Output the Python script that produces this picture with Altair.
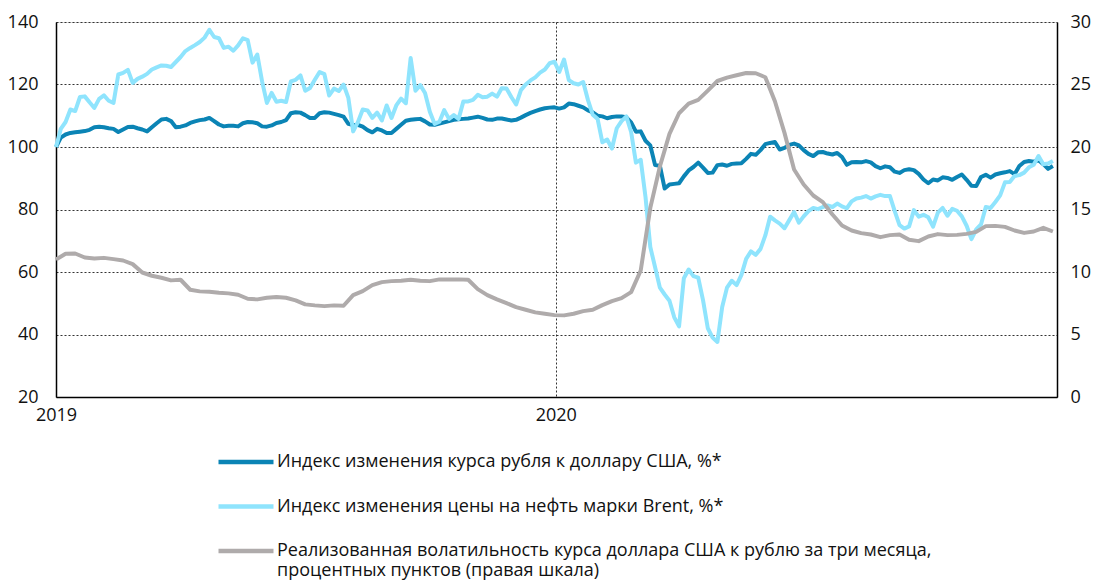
import altair as alt
import pandas as pd

# ---- data ----
S_RUB = "Индекс изменения курса рубля к доллару США, %*"
S_BRENT = "Индекс изменения цены на нефть марки Brent, %*"
S_VOL = "Реализованная волатильность курса доллара США к рублю за три месяца,|процентных пунктов (правая шкала)"

dates_half = pd.date_range("2019-01-01", periods=209, freq="84h")
dates_week = pd.date_range("2019-01-01", periods=105, freq="7D")

rub = [
    100, 103, 104, 104.5, 104.7, 104.9, 105.1, 105.5, 106.3, 106.5,
    106.3, 106.0, 105.8, 104.8, 105.6, 106.4, 106.5, 106.0, 105.6, 105.0,
    106.3, 107.6, 108.8, 109.0, 108.3, 106.3, 106.5, 106.9, 107.7, 108.2,
    108.6, 108.8, 109.3, 108.3, 107.2, 106.6, 106.8, 106.8, 106.6, 107.6,
    108.0, 107.9, 107.6, 106.6, 106.5, 106.9, 107.7, 108.0, 108.6, 110.8,
    111.1, 111.0, 110.2, 109.3,
    109.3, 110.8, 111.1, 111.0, 110.6, 110.2, 109.7, 107.4, 107.0, 107.1,
    106.5, 105.4, 104.7, 105.8, 105.3, 104.5, 104.5, 105.8, 107.1, 108.4,
    108.7, 108.9, 109.0, 108.2, 107.2, 107.1, 107.5, 107.9, 108.3, 108.7,
    108.9, 109.0, 109.1, 109.4, 109.7, 109.3, 108.8, 108.7, 109.1, 109.1,
    108.8, 108.5, 108.7, 109.4, 110.2, 110.9, 111.5, 112.0, 112.4, 112.6,
    112.7,
    112.3, 112.7, 113.9, 113.7, 113.2, 112.7, 111.7, 111.1, 110.0, 109.8,
    109.2, 109.6, 109.8, 109.8, 109.5, 107.9, 104.9, 105.0, 102.0, 100.5,
    94.2, 94.0, 86.7, 88.0, 88.2, 88.4, 90.6, 92.5, 93.6, 95.0,
    93.4, 91.7, 91.8, 94.2, 94.4, 94.0, 94.6, 94.7, 94.8, 96.2,
    97.8, 97.5, 99.0, 100.9, 101.3, 101.6, 99.2, 99.7, 100.7, 101.1,
    100.5, 99.0,
    97.8, 97.1, 98.3, 98.4, 97.9, 97.6, 98.1, 96.8, 94.3, 95.1,
    95.2, 95.1, 95.5, 95.1, 93.9, 93.2, 93.8, 93.5, 92.1, 91.7,
    92.6, 92.9, 92.6, 91.4, 89.6, 88.4, 89.6, 89.3, 90.3, 90.1,
    89.5, 90.4, 91.2, 89.5, 87.6, 87.5, 90.4, 91.1, 90.2, 91.2,
    91.6, 91.9, 92.3, 91.3, 93.9, 95.2, 95.5, 95.3, 95.8, 94.5,
    93.0, 93.9,
]

brent = [
    100, 105.8, 108, 112, 111.5, 116, 116.2, 114.3, 112.5, 115.4,
    116.5, 114.8, 114.1, 123.2, 123.7, 124.7, 120.5, 121.8, 122.5, 123.4,
    124.8, 125.5, 126.1, 126.0, 125.6, 127.2, 128.8, 130.7, 131.7, 132.6,
    133.6, 135.0, 137.5, 135.2, 134.8, 131.7, 132.1, 130.8, 132.5, 134.8,
    134.2, 127.0, 129.6, 121.0, 114.1, 117.3, 114.5, 114.8, 114.4, 121.0,
    121.5, 122.9, 118.0, 118.9,
    121.5, 124.0, 123.3, 116.5, 118.7, 117.9, 120.0, 115.7, 105.0, 108.0,
    112.0, 111.7, 109.3, 111.0, 108.5, 113.3, 109.3, 113.3, 115.5, 114.0,
    128.5, 118.0, 119.8, 117.3, 111.3, 107.4, 108.1, 111.8, 109.0, 110.2,
    109.0, 114.6, 114.6, 115.1, 116.7, 115.9, 116.1, 117.1, 116.1, 118.8,
    118.7, 116.0, 113.6, 118.2, 120.0, 121.3, 122.3, 123.8, 124.8, 126.8,
    127.3,
    124.0, 128.0, 121.4, 120.4, 120.0, 120.8, 115.0, 110.3, 109.0, 101.5,
    102.4, 99.5, 106.0, 108.3, 109.8, 104.8, 95.0, 95.9, 84.0, 68.0,
    61.5, 55.0, 52.8, 50.8, 45.5, 42.6, 58.0, 60.8, 58.7, 58.2,
    51.0, 42.0, 39.0, 37.6, 48.8, 55.0, 57.2, 55.8, 59.0, 64.2,
    66.6, 65.5, 67.4, 71.7, 77.7, 76.5, 75.5, 74.0, 76.6, 79.2,
    75.8, 77.8,
    79.5, 80.5, 80.1, 80.8, 81.3, 80.8, 81.9, 81.0, 80.4, 82.6,
    83.5, 83.8, 84.3, 83.5, 84.2, 84.7, 84.3, 84.3, 79.5, 75.0,
    73.9, 74.6, 79.8, 77.7, 78.3, 77.5, 74.5, 79.0, 80.5, 78.0,
    80.2, 79.6, 77.8, 74.8, 70.5, 73.6, 75.2, 80.8, 80.5, 82.4,
    84.5, 88.7, 88.8, 90.7, 91.0, 91.8, 93.5, 94.3, 97.1, 94.5,
    94.7, 95.5,
]

vol = [
    11.0, 11.46, 11.48, 11.16, 11.08, 11.13, 11.03, 10.92, 10.63, 9.96,
    9.70, 9.54, 9.33, 9.38, 8.58, 8.45, 8.42, 8.34, 8.29, 8.18,
    7.86, 7.81, 7.94, 8.00, 7.94, 7.73, 7.41,
    7.33, 7.27, 7.33, 7.30, 8.15, 8.47, 8.95, 9.19, 9.27, 9.30,
    9.38, 9.30, 9.27, 9.41, 9.41, 9.41, 9.38, 8.63, 8.15, 7.81,
    7.51, 7.19, 6.98, 6.77, 6.66, 6.55,
    6.53, 6.66, 6.87, 6.98, 7.35, 7.67, 7.91, 8.39, 10.12, 15.13,
    18.44, 21.05, 22.70, 23.47, 23.77, 24.51, 25.28, 25.55, 25.74, 25.92,
    25.90, 25.58, 23.66, 21.13, 18.20, 17.00,
    16.12, 15.59, 14.60, 13.72, 13.32, 13.11, 13.00, 12.79, 12.95, 13.00,
    12.58, 12.47, 12.84, 13.03, 12.95, 12.97, 13.05, 13.21, 13.67, 13.69,
    13.61, 13.32, 13.13, 13.24, 13.53, 13.24,
]

left_ticks = [20, 40, 60, 80, 100, 120, 140]
right_ticks = [0, 5, 10, 15, 20, 25, 30]
series_order = [S_RUB, S_BRENT, S_VOL]
series_colors = ["#0b84b5", "#8fe4fd", "#afabab"]

df_left = pd.concat([
    pd.DataFrame({"date": dates_half, "value": rub, "series": S_RUB, "ord": 1}),
    pd.DataFrame({"date": dates_half, "value": brent, "series": S_BRENT, "ord": 0}),
])
df_right = pd.DataFrame({"date": dates_week, "value": vol, "series": S_VOL})

FONT = "Open Sans"
x_domain = [alt.DateTime(year=2019, month=1, date=1), alt.DateTime(year=2021, month=1, date=1)]
x_ticks = [alt.DateTime(year=2019, month=1, date=1), alt.DateTime(year=2020, month=1, date=1)]

color = alt.Color(
    "series:N",
    scale=alt.Scale(domain=series_order, range=series_colors),
    legend=alt.Legend(
        title=None, orient="none", legendX=160, legendY=410,
        direction="vertical", symbolType="stroke", symbolSize=3025,
        symbolStrokeWidth=4.5, labelFont=FONT, labelFontSize=18,
        labelColor="#111", labelLimit=1000, labelOffset=1, rowPadding=5.5,
        labelExpr="split(datum.label, '|')",
    ),
)

x_enc = alt.X(
    "date:T",
    scale=alt.Scale(domain=x_domain),
    axis=alt.Axis(
        title=None, values=x_ticks, format="%Y", ticks=False, labelPadding=9,
        grid=True, gridDash=[2, 2], gridColor="#333", gridWidth=1,
        domainColor="black", domainWidth=1.5, labelAlign="center",
        labelFont=FONT, labelFontSize=18, labelColor="#111",
    ),
)

left = alt.Chart(df_left).mark_line(strokeWidth=4, strokeJoin="round").encode(
    x=x_enc,
    y=alt.Y(
        "value:Q",
        scale=alt.Scale(domain=[20, 140], nice=False, zero=False),
        axis=alt.Axis(
            title=None, orient="left", values=left_ticks, ticks=False,
            labelPadding=18, grid=True, gridDash=[2, 2], gridColor="#333",
            gridWidth=1, domainColor="black", domainWidth=1.5,
            labelFont=FONT, labelFontSize=18, labelColor="#111",
        ),
    ),
    color=color,
    order=alt.Order("ord:Q"),
)

right = alt.Chart(df_right).mark_line(strokeWidth=4, strokeJoin="round").encode(
    x=x_enc,
    y=alt.Y(
        "value:Q",
        scale=alt.Scale(domain=[0, 30], nice=False),
        axis=alt.Axis(
            title=None, orient="right", values=right_ticks, ticks=False,
            labelPadding=13, grid=False, domainColor="black", domainWidth=1.5,
            labelFont=FONT, labelFontSize=18, labelColor="#111",
        ),
    ),
    color=color,
)

chart = (
    alt.layer(left, right)
    .resolve_scale(y="independent")
    .properties(
        width=1001, height=375,
        autosize=alt.AutoSizeParams(type="none"),
        padding={"left": 48, "top": 14, "right": 34, "bottom": 200},
    )
    .configure_view(stroke="black", strokeWidth=1.5)
    .configure(background="white")
)

chart.save("out.html", embed_options={"renderer": "svg", "actions": False})
